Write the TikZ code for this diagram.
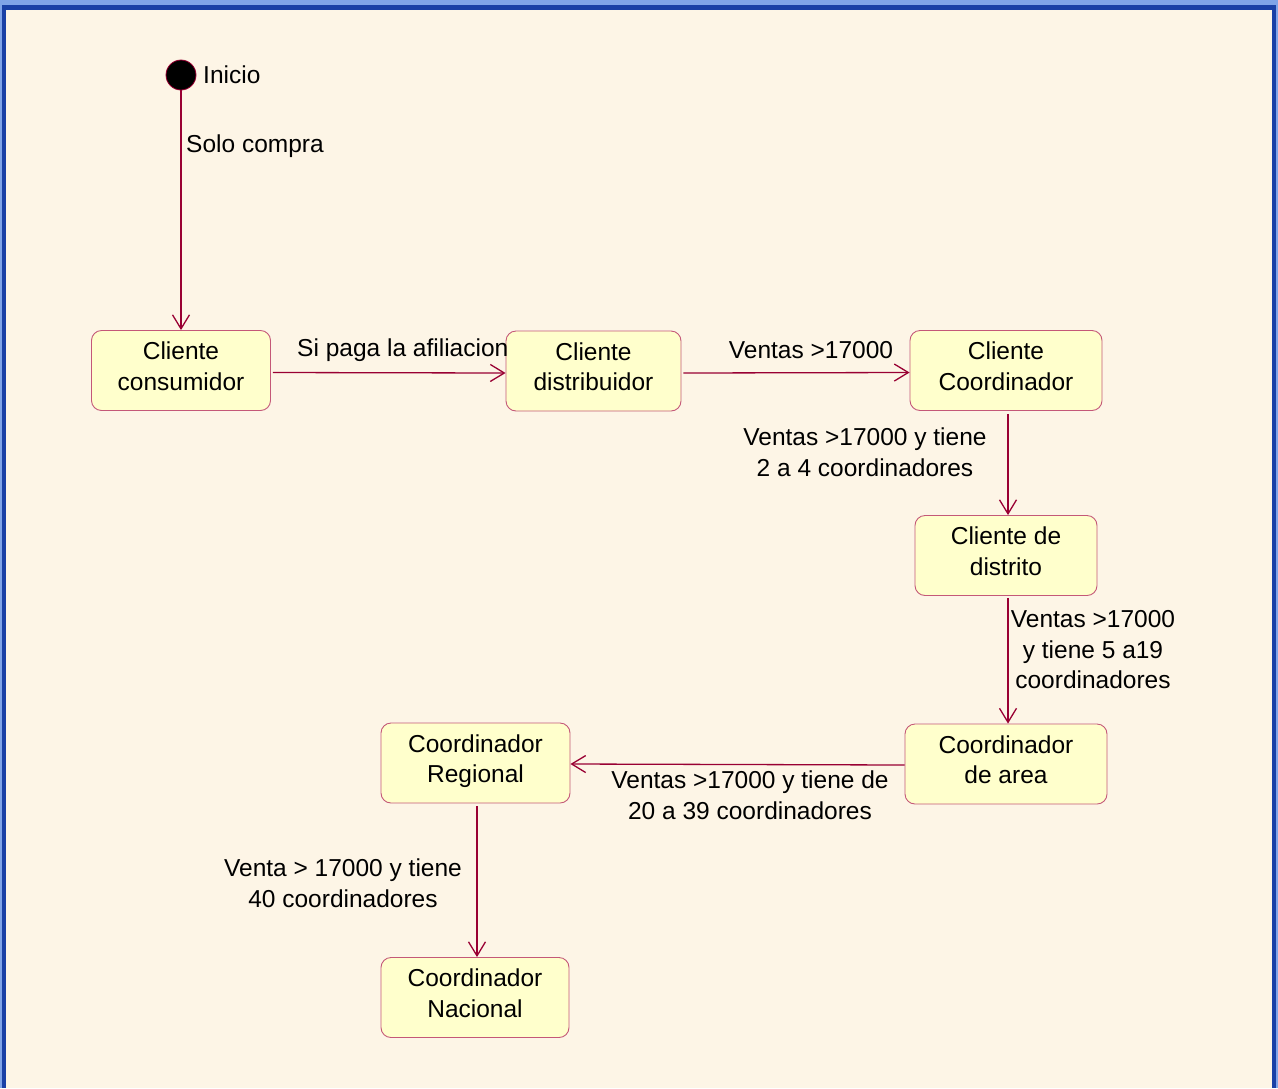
\documentclass[tikz,border=0pt]{standalone}
\usepackage{fontspec}
\setmainfont{Liberation Sans}
\usetikzlibrary{arrows.meta}
\definecolor{paper}{RGB}{253,245,230}
\definecolor{statefill}{RGB}{255,255,204}
\definecolor{stateline}{RGB}{196,88,120}
\definecolor{wire}{RGB}{153,0,51}
\definecolor{frameout}{RGB}{128,164,232}
\definecolor{framein}{RGB}{26,64,166}
\begin{document}
\begin{tikzpicture}[x=1pt,y=-1pt,
  every node/.style={font=\fontsize{24.5}{30.5}\selectfont, inner sep=0pt},
  state/.style={draw=stateline, line width=0.9pt, fill=statefill, rounded corners=10pt,
    align=center, minimum height=80pt, text depth=9pt},
  trans/.style={draw=wire, line width=1.3pt, -{Straight Barb[length=14pt,width=17pt,line width=1.3pt]}},
  lbl/.style={align=center, text=black}]
  % page background and window frame
  \useasboundingbox (0,0) rectangle (1278,1088);
  \fill[paper] (0,0) rectangle (1278,1088);
  \fill[frameout] (0,0) rectangle (1278,5);
  \fill[frameout] (0,0) rectangle (2,1088);
  \fill[frameout] (1276,0) rectangle (1278,1088);
  \fill[framein] (2,5) rectangle (1276,10);
  \fill[framein] (2,5) rectangle (6,1088);
  \fill[framein] (1272,5) rectangle (1276,1088);

  % initial pseudo-state
  \node[circle, fill=black, draw=wire, line width=0.8pt, minimum size=30pt] (ini) at (181,75) {};
  \node[anchor=west] (iniText) at (203,75) {Inicio};

  % states
  \node[state, minimum width=179pt] (cons) at (181,370.5) {Cliente\\consumidor};
  \node[state, minimum width=175pt] (dist) at (593.5,371) {Cliente\\distribuidor};
  \node[state, minimum width=192pt] (coor) at (1006,370.5) {Cliente\\Coordinador};
  \node[state, minimum width=182pt] (distr) at (1006,555.5) {Cliente de\\distrito};
  \node[state, minimum width=202pt] (area) at (1006,764) {Coordinador\\de area};
  \node[state, minimum width=189pt] (reg) at (475.5,763) {Coordinador\\Regional};
  \node[state, minimum width=188pt] (nac) at (475,997.5) {Coordinador\\Nacional};

  % transitions (canvas yshift: negative moves down)
  \draw[trans] (ini) -- (cons);
  \draw[trans] ([yshift=-2pt,xshift=2pt]cons.east) -- ([yshift=-2pt]dist.west);
  \draw[trans] ([yshift=-2pt,xshift=2pt]dist.east) -- ([yshift=-2pt]coor.west);
  \draw[trans] ([xshift=2pt,yshift=-3pt]coor.south) -- ([xshift=2pt]distr.north);
  \draw[trans] ([xshift=2pt,yshift=-2pt]distr.south) -- ([xshift=2pt]area.north);
  \draw[trans] ([yshift=-1pt]area.west) -- ([yshift=-1pt]reg.east);
  \draw[trans] ([xshift=1.5pt,yshift=-3pt]reg.south) -- ([xshift=2pt]nac.north);

  % transition labels
  \node[lbl, anchor=west] (l1) at (186,146) {Solo compra};
  \node[lbl, anchor=west] (l2) at (297,350) {Si paga la afiliacion};
  \node[lbl] (l3) at (811,350) {Ventas >17000};
  \node[lbl] (l4) at (865,452) {Ventas >17000 y tiene\\2 a 4 coordinadores};
  \node[lbl] (l5) at (1093,650) {Ventas >17000\\y tiene 5 a19\\coordinadores};
  \node[lbl] (l6) at (750,795) {Ventas >17000 y tiene de\\20 a 39 coordinadores};
  \node[lbl] (l7) at (343,883) {Venta > 17000 y tiene\\40 coordinadores};
\end{tikzpicture}
\end{document}
